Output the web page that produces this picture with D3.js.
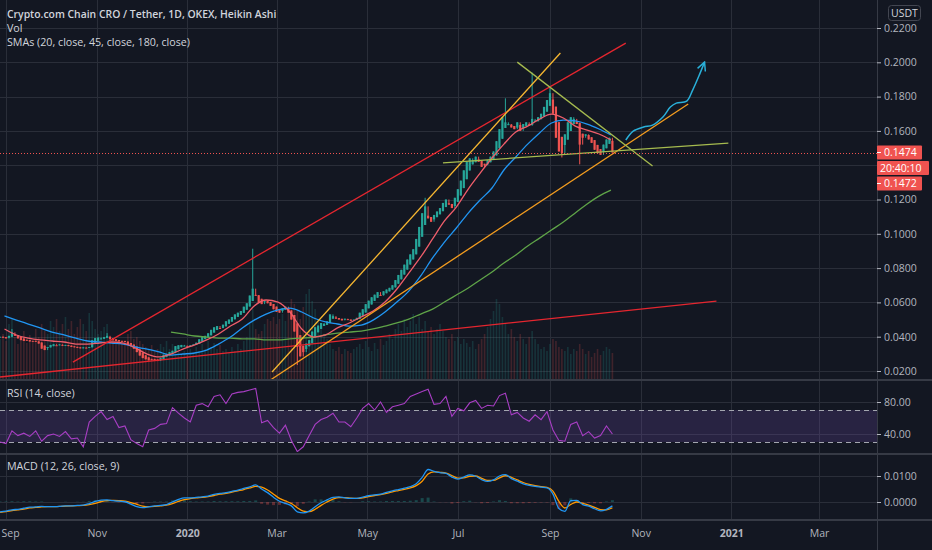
<!DOCTYPE html>
<html>
<head>
<meta charset="utf-8">
<script src="https://cdn.jsdelivr.net/npm/d3@7"></script>
<style>
html, body { margin: 0; padding: 0; background: #131722; }
svg { display: block; font-family: "Open Sans", "Noto Sans", sans-serif; }
</style>
</head>
<body>
<svg width="932" height="550"></svg>
<script>
// Heikin Ashi closes, one candle every 2 days from candleStart
const candleStart = "2019-08-28";
const closes = [
  0.0400, 0.0395, 0.0390, 0.0405, 0.0425, 0.0405, 0.0390, 0.0380, 0.0375, 0.0378, 0.0372, 0.0376, 0.0370, 0.0360, 0.0330, 0.0322,
  0.0340, 0.0352, 0.0356, 0.0350, 0.0355, 0.0348, 0.0352, 0.0345, 0.0340, 0.0338, 0.0335, 0.0332, 0.0338, 0.0335, 0.0340,
  0.0380, 0.0392, 0.0395, 0.0390, 0.0398, 0.0405, 0.0385, 0.0378, 0.0375, 0.0372, 0.0375, 0.0368, 0.0355, 0.0345, 0.0330,
  0.0310, 0.0290, 0.0275, 0.0268, 0.0262, 0.0270, 0.0265, 0.0258, 0.0275, 0.0295, 0.0300, 0.0310, 0.0318, 0.0345, 0.0350,
  0.0352, 0.0348, 0.0345, 0.0350, 0.0355, 0.0365, 0.0385, 0.0400, 0.0405, 0.0420, 0.0440, 0.0455, 0.0462, 0.0450, 0.0470,
  0.0490, 0.0500, 0.0515, 0.0530, 0.0540, 0.0550, 0.0575, 0.0595, 0.0640, 0.0680, 0.0640, 0.0600, 0.0590, 0.0610, 0.0595,
  0.0580, 0.0560, 0.0545, 0.0540, 0.0565, 0.0575, 0.0540, 0.0500, 0.0430, 0.0340, 0.0285, 0.0310, 0.0360, 0.0380, 0.0430,
  0.0455, 0.0465, 0.0480, 0.0475, 0.0490, 0.0530, 0.0520, 0.0505, 0.0500, 0.0495, 0.0505, 0.0498, 0.0492, 0.0500, 0.0510,
  0.0540, 0.0560, 0.0590, 0.0610, 0.0630, 0.0645, 0.0660, 0.0640, 0.0665, 0.0675, 0.0685, 0.0700, 0.0730, 0.0760, 0.0790,
  0.0820, 0.0850, 0.0880, 0.0910, 0.0970, 0.1040, 0.1120, 0.1160, 0.1090, 0.1070, 0.1110, 0.1130, 0.1150, 0.1180, 0.1200,
  0.1170, 0.1150, 0.1210, 0.1260, 0.1310, 0.1370, 0.1420, 0.1440, 0.1430, 0.1450, 0.1420, 0.1390, 0.1400, 0.1430, 0.1450,
  0.1480, 0.1540, 0.1610, 0.1680, 0.1650, 0.1640, 0.1620, 0.1610, 0.1650, 0.1600, 0.1640, 0.1650, 0.1630, 0.1670, 0.1660,
  0.1680, 0.1700, 0.1740, 0.1780, 0.1820, 0.1700, 0.1560, 0.1480, 0.1470, 0.1580, 0.1650, 0.1680, 0.1670, 0.1640, 0.1520,
  0.1560, 0.1580, 0.1550, 0.1530, 0.1490, 0.1470, 0.1460, 0.1520, 0.1550, 0.1560, 0.1474
];
const volumes = [
  40, 45, 38, 55, 60, 42, 35, 40, 48, 36, 44, 38, 50, 42, 55, 48,
  45, 58, 52, 60, 48, 55, 62, 50, 58, 45, 52, 60, 55, 48, 66,
  58, 50, 45, 48, 52, 55, 42, 38, 40, 36, 38, 35, 45, 48, 40,
  42, 38, 35, 32, 30, 34, 28, 30, 35, 32, 38, 30, 35, 28, 30,
  25, 28, 24, 30, 26, 32, 28, 35, 30, 38, 32, 36, 30, 34, 28,
  30, 26, 32, 28, 35, 30, 38, 42, 55, 70, 50, 45, 48, 55, 60,
  58, 62, 55, 60, 65, 58, 70, 80, 75, 68, 60, 72, 85, 90, 78,
  70, 60, 50, 45, 40, 35, 30, 28, 32, 25, 30, 28, 26, 30, 32,
  35, 30, 38, 32, 28, 36, 30, 40, 34, 38, 45, 40, 50, 55, 48,
  60, 52, 58, 65, 55, 62, 50, 58, 48, 52, 45, 50, 55, 48, 42,
  40, 45, 38, 42, 35, 40, 36, 32, 38, 30, 35, 40, 45, 52, 60,
  68, 80, 75, 62, 55, 45, 50, 42, 38, 45, 40, 35, 42, 48, 40,
  35, 30, 32, 28, 35, 40, 38, 32, 30, 28, 32, 25, 30, 28, 35,
  30, 25, 28, 22, 26, 30, 24, 28, 32, 30, 26
];
// long wicks visible on the chart
const wickDates = ["2019-09-05", "2019-11-08", "2020-02-14", "2020-03-15", "2020-06-09",
                   "2020-08-02", "2020-08-20", "2020-09-01", "2020-09-09", "2020-09-21"];
const wickPrices = [0.0445, 0.0421, 0.0913, 0.0235, 0.1210, 0.1790, 0.1940, 0.1850, 0.1445, 0.1405];

// moving averages, one point every 8 days from smaStart
const smaStart = "2019-08-31";
const sma20 = [
  0.0445, 0.0410, 0.0392, 0.0381, 0.0375, 0.0369, 0.0357, 0.0357, 0.0363, 0.0369, 0.0363, 0.0334, 0.0299,
  0.0282, 0.0299, 0.0328, 0.0352, 0.0381, 0.0416, 0.0462, 0.0503, 0.0579, 0.0614, 0.0602, 0.0544, 0.0445,
  0.0398, 0.0410, 0.0451, 0.0480, 0.0515, 0.0550, 0.0602, 0.0678, 0.0771, 0.0865, 0.0970, 0.1075, 0.1156,
  0.1261, 0.1354, 0.1442, 0.1523, 0.1593, 0.1628, 0.1669, 0.1698, 0.1675, 0.1628, 0.1605, 0.1582, 0.1547
];
const sma45 = [
  0.0521, 0.0497, 0.0474, 0.0451, 0.0427, 0.0410, 0.0392, 0.0375, 0.0369, 0.0363, 0.0357, 0.0340, 0.0328,
  0.0311, 0.0293, 0.0299, 0.0305, 0.0322, 0.0357, 0.0398, 0.0451, 0.0497, 0.0532, 0.0556, 0.0567, 0.0544,
  0.0509, 0.0486, 0.0474, 0.0462, 0.0468, 0.0497, 0.0544, 0.0602, 0.0666, 0.0754, 0.0859, 0.0952, 0.1034,
  0.1121, 0.1197, 0.1267, 0.1372, 0.1448, 0.1523, 0.1588, 0.1646, 0.1663, 0.1658, 0.1640, 0.1611, 0.1576
];
const sma180 = [
  null, null, null, null, null, null, null, null, null, null, null, null, null,
  null, 0.0427, 0.0416, 0.0404, 0.0398, 0.0392, 0.0392, 0.0387, 0.0387, 0.0381, 0.0381, 0.0387, 0.0392,
  0.0398, 0.0410, 0.0421, 0.0427, 0.0433, 0.0445, 0.0462, 0.0480, 0.0503, 0.0532, 0.0561, 0.0602, 0.0643,
  0.0684, 0.0731, 0.0777, 0.0830, 0.0876, 0.0929, 0.0975, 0.1022, 0.1069, 0.1121, 0.1174, 0.1220, 0.1255
];

// oscillators, one point every 4 days from oscStart
const oscStart = "2019-08-28";
const rsi = [
  30, 28, 44, 38, 41, 37, 44, 31, 38, 40,
  37, 43, 34, 35, 24, 55, 62, 68, 58, 62,
  48, 50, 33, 28, 24, 45, 47, 52, 53, 73,
  66, 60, 55, 76, 78, 74, 87, 89, 78, 90,
  92, 93, 95, 97, 54, 57, 48, 41, 51, 32,
  18, 24, 38, 52, 58, 61, 66, 55, 55, 49,
  60, 72, 78, 70, 80, 67, 74, 76, 78, 87,
  90, 93, 96, 77, 78, 87, 62, 72, 69, 79,
  82, 72, 76, 75, 88, 91, 64, 67, 60, 56,
  64, 58, 68, 45, 32, 31, 52, 55, 38, 43,
  35, 38, 50, 40
];
const macd = [
  -0.0038, -0.0035, -0.0030, -0.0028, -0.0024, -0.0020, -0.0019, -0.0017, -0.0018, -0.0018,
  -0.0017, -0.0015, -0.0015, -0.0013, -0.0012, -0.0006, 0.0002, 0.0007, 0.0008, 0.0005,
  0.0003, 0.0001, -0.0008, -0.0018, -0.0022, -0.0019, -0.0015, -0.0013, -0.0010, 0.0000,
  0.0010, 0.0016, 0.0016, 0.0018, 0.0020, 0.0023, 0.0029, 0.0033, 0.0036, 0.0041,
  0.0046, 0.0052, 0.0058, 0.0066, 0.0050, 0.0036, 0.0018, 0.0003, -0.0005, -0.0015,
  -0.0038, -0.0042, -0.0035, -0.0018, -0.0003, 0.0008, 0.0018, 0.0020, 0.0016, 0.0014,
  0.0014, 0.0019, 0.0024, 0.0027, 0.0030, 0.0037, 0.0043, 0.0048, 0.0053, 0.0059,
  0.0070, 0.0095, 0.0125, 0.0118, 0.0113, 0.0110, 0.0096, 0.0088, 0.0096, 0.0104,
  0.0099, 0.0086, 0.0079, 0.0085, 0.0100, 0.0105, 0.0090, 0.0080, 0.0070, 0.0064,
  0.0060, 0.0057, 0.0054, 0.0030, -0.0025, -0.0036, 0.0005, 0.0006, -0.0010, -0.0016,
  -0.0026, -0.0034, -0.0028, -0.0015
];
const signal = [
  -0.0040, -0.0037, -0.0033, -0.0030, -0.0027, -0.0023, -0.0021, -0.0019, -0.0018, -0.0018,
  -0.0017, -0.0016, -0.0015, -0.0014, -0.0013, -0.0010, -0.0005, 0.0001, 0.0005, 0.0006,
  0.0005, 0.0003, -0.0002, -0.0009, -0.0016, -0.0018, -0.0017, -0.0015, -0.0012, -0.0006,
  0.0002, 0.0009, 0.0013, 0.0016, 0.0018, 0.0021, 0.0025, 0.0030, 0.0033, 0.0038,
  0.0043, 0.0048, 0.0054, 0.0060, 0.0057, 0.0046, 0.0030, 0.0014, 0.0004, -0.0006,
  -0.0022, -0.0035, -0.0037, -0.0028, -0.0013, 0.0000, 0.0011, 0.0017, 0.0017, 0.0015,
  0.0014, 0.0016, 0.0021, 0.0025, 0.0028, 0.0033, 0.0039, 0.0044, 0.0049, 0.0054,
  0.0063, 0.0080, 0.0108, 0.0116, 0.0114, 0.0111, 0.0102, 0.0092, 0.0093, 0.0099,
  0.0100, 0.0091, 0.0083, 0.0083, 0.0093, 0.0101, 0.0095, 0.0085, 0.0075, 0.0068,
  0.0063, 0.0059, 0.0056, 0.0042, 0.0002, -0.0023, -0.0009, 0.0000, -0.0005, -0.0012,
  -0.0021, -0.0029, -0.0030, -0.0022
];

const priceTicks = [0.02, 0.04, 0.06, 0.08, 0.10, 0.12, 0.14, 0.16, 0.18, 0.20, 0.22];
const rsiTicks = [40, 80];
const macdTicks = [0, 0.01];
const lastPrice = 0.1474;
const priceTags = ["0.1474", "20:40:10", "0.1472"];

// hand drawn trend lines (date, price) -> (date, price)
const trendFrom = ["2019-10-16", "2019-08-28", "2020-02-27", "2020-02-26", "2020-06-21", "2020-08-10"];
const trendFromPrice = [0.0252, 0.0165, 0.0194, 0.0148, 0.1413, 0.2001];
const trendTo = ["2020-10-22", "2020-12-22", "2020-09-08", "2020-12-03", "2020-12-30", "2020-11-09"];
const trendToPrice = [0.2112, 0.0608, 0.2054, 0.1757, 0.1529, 0.1395];
// projected path arrow
const arrowDates = ["2020-10-22", "2020-10-27", "2020-11-03", "2020-11-09", "2020-11-16", "2020-11-21",
                    "2020-11-25", "2020-12-02", "2020-12-06", "2020-12-11", "2020-12-14"];
const arrowPrices = [0.1547, 0.1599, 0.1623, 0.1634, 0.1681, 0.1739, 0.1762, 0.1774, 0.1838, 0.1937, 0.2001];

// ---- layout ----
const W = 932, H = 550;
const axisX = 877;
const up = "#26a69a", down = "#ef5350";
const textColor = "#b2b5be";
const gridColor = "#2a2e39";
const font = '"Open Sans", "Noto Sans", sans-serif';

const parse = d3.timeParse("%Y-%m-%d");
const fmtDay = d3.timeFormat("%Y-%m-%d");
const series = (start, step, n) => d3.range(n).map(i => d3.timeDay.offset(parse(start), i * step));

const candleDates = series(candleStart, 2, closes.length);
const smaDates = series(smaStart, 8, sma20.length);
const oscDates = series(oscStart, 4, rsi.length);

const x = d3.scaleTime()
    .domain([parse("2019-09-01"), parse("2021-03-01")])
    .range([6, 819]);
const yPrice = d3.scaleLinear().domain([0.02, 0.22]).range([371, 28]);
const yVol = d3.scaleLinear().domain([0, 100]).range([379, 279]);
const yRsi = d3.scaleLinear().domain([0, 100]).range([466, 386]);
const yMacd = d3.scaleLinear().domain([0, 0.01]).range([502, 476]);

const monthTicks = d3.timeMonth.every(2).range(parse("2019-09-01"), parse("2021-04-01"));

const svg = d3.select("svg");
svg.append("rect").attr("width", W).attr("height", H).attr("fill", "#131722");

const defs = svg.append("defs");
function clip(id, y0, y1) {
    defs.append("clipPath").attr("id", id)
        .append("rect").attr("x", 0).attr("y", y0).attr("width", axisX).attr("height", y1 - y0);
}
clip("clip-price", 0, 379);
clip("clip-rsi", 381, 452);
clip("clip-macd", 455, 519);

const crisp = v => Math.round(v) + 0.5;

// grid
const grid = svg.append("g").attr("stroke", gridColor).attr("stroke-width", 1);
grid.selectAll(".v").data(monthTicks).join("line")
    .attr("x1", d => crisp(x(d))).attr("x2", d => crisp(x(d)))
    .attr("y1", 0).attr("y2", 520);
grid.selectAll(".hp").data(priceTicks).join("line")
    .attr("x1", 0).attr("x2", axisX)
    .attr("y1", d => crisp(yPrice(d))).attr("y2", d => crisp(yPrice(d)));
grid.selectAll(".hr").data(rsiTicks).join("line")
    .attr("x1", 0).attr("x2", axisX)
    .attr("y1", d => crisp(yRsi(d))).attr("y2", d => crisp(yRsi(d)));
grid.selectAll(".hm").data(macdTicks).join("line")
    .attr("x1", 0).attr("x2", axisX)
    .attr("y1", d => crisp(yMacd(d))).attr("y2", d => crisp(yMacd(d)));

// heikin ashi candles
const wicks = new Map(wickDates.map((d, i) => [d, wickPrices[i]]));
const ha = [];
closes.forEach((c, i) => {
    const o = i === 0 ? c : (ha[i - 1].o + ha[i - 1].c) / 2;
    const prev = i === 0 ? c : closes[i - 1];
    let hi = Math.max(o, c, prev), lo = Math.min(o, c, prev);
    const w = wicks.get(fmtDay(candleDates[i]));
    if (w !== undefined) { hi = Math.max(hi, w); lo = Math.min(lo, w); }
    ha.push({ date: candleDates[i], o, c, hi, lo, v: volumes[i] });
});

const pricePane = svg.append("g").attr("clip-path", "url(#clip-price)");

// volume
pricePane.append("g").selectAll("rect").data(ha).join("rect")
    .attr("x", d => x(d.date) - 0.8)
    .attr("width", 1.6)
    .attr("y", d => yVol(d.v))
    .attr("height", d => yVol(0) - yVol(d.v))
    .attr("fill", d => d.c >= d.o ? up : down)
    .attr("opacity", 0.2);

const candles = pricePane.append("g");
candles.selectAll("line").data(ha).join("line")
    .attr("x1", d => x(d.date)).attr("x2", d => x(d.date))
    .attr("y1", d => yPrice(d.hi)).attr("y2", d => yPrice(d.lo))
    .attr("stroke", d => d.c >= d.o ? up : down)
    .attr("stroke-width", 1);
candles.selectAll("rect").data(ha).join("rect")
    .attr("x", d => x(d.date) - 1.1)
    .attr("width", 2.2)
    .attr("y", d => yPrice(Math.max(d.o, d.c)))
    .attr("height", d => Math.max(1, Math.abs(yPrice(d.o) - yPrice(d.c))))
    .attr("fill", d => d.c >= d.o ? up : down);

// moving averages
const smaLine = d3.line()
    .defined(d => d[1] != null)
    .x(d => x(d[0]))
    .y(d => yPrice(d[1]))
    .curve(d3.curveMonotoneX);
[[sma180, "#5fa448"], [sma45, "#2196f3"], [sma20, "#ef5e6b"]].forEach(([vals, color]) => {
    pricePane.append("path")
        .attr("d", smaLine(smaDates.map((d, i) => [d, vals[i]])))
        .attr("fill", "none").attr("stroke", color).attr("stroke-width", 1.3);
});

// drawings
const trendColors = ["#e5262f", "#e5262f", "#f7b731", "#f59d1f", "#a6bb4f", "#a6bb4f"];
pricePane.append("g").selectAll("line").data(trendFrom).join("line")
    .attr("x1", (d, i) => x(parse(d)))
    .attr("y1", (d, i) => yPrice(trendFromPrice[i]))
    .attr("x2", (d, i) => x(parse(trendTo[i])))
    .attr("y2", (d, i) => yPrice(trendToPrice[i]))
    .attr("stroke", (d, i) => trendColors[i])
    .attr("stroke-width", 1.3);

defs.append("marker").attr("id", "arrow")
    .attr("viewBox", "0 0 10 10").attr("refX", 9).attr("refY", 5)
    .attr("markerWidth", 7).attr("markerHeight", 7)
    .attr("orient", "auto-start-reverse")
    .append("path").attr("d", "M1,1 L9,5 L1,9")
    .attr("fill", "none").attr("stroke", "#2ab0d9").attr("stroke-width", 1.4);

pricePane.append("path")
    .attr("d", d3.line().x(d => x(d[0])).y(d => yPrice(d[1])).curve(d3.curveCatmullRom)(
        arrowDates.map((d, i) => [parse(d), arrowPrices[i]])))
    .attr("fill", "none").attr("stroke", "#2ab0d9").attr("stroke-width", 1.5)
    .attr("marker-end", "url(#arrow)");

// last price dotted line
pricePane.append("line")
    .attr("x1", 0).attr("x2", axisX)
    .attr("y1", crisp(yPrice(lastPrice))).attr("y2", crisp(yPrice(lastPrice)))
    .attr("stroke", down).attr("stroke-width", 1).attr("stroke-dasharray", "1,2");

// RSI pane
const rsiPane = svg.append("g").attr("clip-path", "url(#clip-rsi)");
rsiPane.append("rect")
    .attr("x", 0).attr("width", axisX)
    .attr("y", yRsi(70)).attr("height", yRsi(30) - yRsi(70))
    .attr("fill", "#7e57c2").attr("opacity", 0.2);
rsiPane.selectAll(".band").data([70, 30]).join("line")
    .attr("x1", 0).attr("x2", axisX)
    .attr("y1", d => crisp(yRsi(d))).attr("y2", d => crisp(yRsi(d)))
    .attr("stroke", "#a3a6af").attr("stroke-dasharray", "5,4");
rsiPane.append("path")
    .attr("d", d3.line().x(d => x(d[0])).y(d => yRsi(d[1]))(oscDates.map((d, i) => [d, rsi[i]])))
    .attr("fill", "none").attr("stroke", "#a83ec4").attr("stroke-width", 1.1);

// MACD pane
const macdPane = svg.append("g").attr("clip-path", "url(#clip-macd)");
macdPane.append("g").selectAll("rect").data(oscDates).join("rect")
    .attr("x", d => x(d) - 1.5)
    .attr("width", 3)
    .attr("y", (d, i) => yMacd(Math.max(0, macd[i] - signal[i])))
    .attr("height", (d, i) => Math.abs(yMacd(macd[i] - signal[i]) - yMacd(0)))
    .attr("fill", (d, i) => macd[i] >= signal[i] ? up : down)
    .attr("opacity", 0.35);
[[signal, "#ff9800"], [macd, "#2196f3"]].forEach(([vals, color]) => {
    macdPane.append("path")
        .attr("d", d3.line().x(d => x(d[0])).y(d => yMacd(d[1])).curve(d3.curveMonotoneX)(
            oscDates.map((d, i) => [d, vals[i]])))
        .attr("fill", "none").attr("stroke", color).attr("stroke-width", 1.3);
});

// separators
const sep = svg.append("g").attr("stroke", "#363a45").attr("stroke-width", 2);
[380, 454, 520].forEach(y => sep.append("line").attr("x1", 0).attr("x2", W).attr("y1", y).attr("y2", y));
svg.append("line").attr("x1", axisX + 0.5).attr("x2", axisX + 0.5).attr("y1", 0).attr("y2", H)
    .attr("stroke", "#363a45");

// axes
function styleAxis(g) {
    g.select(".domain").remove();
    g.selectAll(".tick line").attr("stroke", textColor);
    g.selectAll(".tick text").attr("fill", textColor).attr("font-size", 10.5)
        .attr("font-family", font);
}
// price labels hidden behind the tags on the axis are left out, as on the reference
const tagY = yPrice(lastPrice);
const labelledPriceTicks = priceTicks.filter(p => yPrice(p) < tagY - 10 || yPrice(p) > tagY + 40);
svg.append("g").attr("transform", `translate(${axisX},0)`)
    .call(d3.axisRight(yPrice).tickValues(labelledPriceTicks).tickFormat(d3.format(".4f")).tickSize(4).tickPadding(3))
    .call(styleAxis);
svg.append("g").attr("transform", `translate(${axisX},0)`)
    .call(d3.axisRight(yRsi).tickValues(rsiTicks).tickFormat(d3.format(".2f")).tickSize(4).tickPadding(3))
    .call(styleAxis);
svg.append("g").attr("transform", `translate(${axisX},0)`)
    .call(d3.axisRight(yMacd).tickValues(macdTicks).tickFormat(d3.format(".4f")).tickSize(4).tickPadding(3))
    .call(styleAxis);

const timeAxis = svg.append("g").attr("transform", "translate(0,522)")
    .call(d3.axisBottom(x).tickValues(monthTicks).tickSize(0).tickPadding(8)
        .tickFormat(d => d.getMonth() === 0 ? d3.timeFormat("%Y")(d) : d3.timeFormat("%b")(d)))
    .call(styleAxis);
timeAxis.selectAll(".tick text").attr("font-weight", d => d.getMonth() === 0 ? 700 : 400);
// keep the first label inside the picture
timeAxis.selectAll(".tick text").filter((d, i) => i === 0)
    .attr("text-anchor", "start").attr("x", d => 1 - x(d));

// price tags on the axis
const tags = svg.append("g");
priceTags.forEach((t, i) => {
    const cy = tagY + i * 15.5;
    const wide = t.length > 6;
    tags.append("rect")
        .attr("x", axisX).attr("y", cy - 7).attr("width", wide ? 52 : 45).attr("height", 14)
        .attr("rx", 1).attr("fill", "#f05350");
    tags.append("text")
        .attr("x", wide ? axisX + 3 : axisX + 7).attr("y", cy).attr("dy", "0.35em")
        .attr("fill", "#ffffff").attr("font-size", 10.5)
        .text(t);
    if (!wide) {
        tags.append("line").attr("x1", axisX).attr("x2", axisX + 4)
            .attr("y1", cy).attr("y2", cy).attr("stroke", "#ffffff");
    }
});

// currency box
svg.append("rect").attr("x", 888.5).attr("y", 5.5).attr("width", 32).attr("height", 15)
    .attr("rx", 3).attr("fill", "#131722").attr("stroke", "#434651");
svg.append("text").attr("x", 904.5).attr("y", 13).attr("dy", "0.35em")
    .attr("text-anchor", "middle").attr("fill", "#d1d4dc").attr("font-size", 10.5)
    .text("USDT");

// legends
const legend = svg.append("g").attr("fill", "#d1d4dc").attr("font-size", 10.7);
legend.append("text").attr("x", 7).attr("y", 18).attr("font-weight", 600).attr("font-size", 10.4)
    .text("Crypto.com Chain CRO / Tether, 1D, OKEX, Heikin Ashi");
legend.append("text").attr("x", 7).attr("y", 31.5).text("Vol");
legend.append("text").attr("x", 7).attr("y", 45.5).text("SMAs (20, close, 45, close, 180, close)");
legend.append("text").attr("x", 7).attr("y", 397).text("RSI (14, close)");
legend.append("text").attr("x", 7).attr("y", 470).text("MACD (12, 26, close, 9)");
</script>
</body>
</html>
